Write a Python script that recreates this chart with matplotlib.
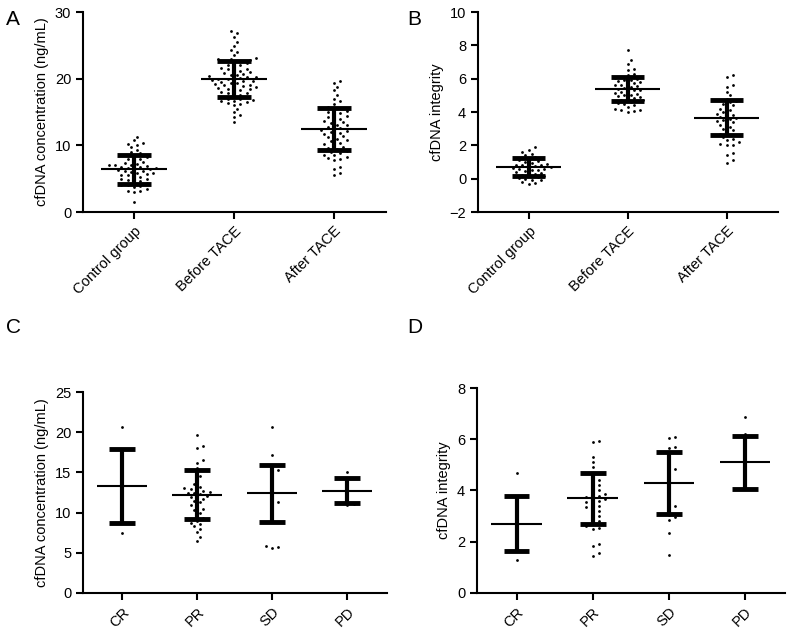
import numpy as np
import matplotlib
matplotlib.use('Agg')
import matplotlib.pyplot as plt

plt.rcParams['font.family'] = ['Liberation Sans', 'DejaVu Sans']

# Panel A / B: groups
grupos_ab = ['Control group', 'Before TACE', 'After TACE']
conc_control = [1.5, 3.0, 3.1, 3.2, 3.5, 3.7, 3.9, 4.0, 4.1, 4.3, 4.5, 4.6, 4.8, 4.9, 5.0,
                5.2, 5.3, 5.5, 5.6, 5.7, 5.8, 5.9, 6.0, 6.1, 6.2, 6.3, 6.4, 6.5, 6.6, 6.6,
                6.7, 6.8, 6.9, 7.0, 7.0, 7.1, 7.2, 7.3, 7.5, 7.7, 7.9, 8.0, 8.2, 8.4, 8.5,
                8.8, 9.0, 9.3, 9.7, 10.0, 10.2, 10.4, 10.8, 11.3]
conc_before = [13.5, 14.2, 14.6, 15.0, 15.5, 16.0, 16.2, 16.3, 16.5, 16.6, 16.7, 16.8, 16.9,
               17.0, 17.2, 17.4, 17.6, 17.8, 17.9, 18.0, 18.1, 18.3, 18.4, 18.5, 18.6, 18.7,
               18.8, 18.9, 19.0, 19.1, 19.2, 19.3, 19.4, 19.5, 19.6, 19.7, 19.8, 19.9, 20.0,
               20.0, 20.1, 20.2, 20.3, 20.4, 20.5, 20.6, 20.7, 20.8, 21.0, 21.1, 21.2, 21.4,
               21.5, 21.6, 21.8, 22.0, 22.1, 22.3, 22.5, 22.6, 22.7, 22.8, 22.9, 23.0, 23.1,
               23.5, 24.0, 24.3, 24.9, 25.5, 26.2, 26.8, 27.2]
conc_after = [5.5, 5.8, 6.4, 6.7, 7.8, 8.0, 8.1, 8.3, 8.5, 8.6, 8.8, 9.0, 9.2, 9.4, 9.6,
              9.8, 10.0, 10.2, 10.4, 10.6, 10.8, 11.0, 11.2, 11.4, 11.5, 11.7, 11.9, 12.0,
              12.2, 12.3, 12.5, 12.6, 12.8, 13.0, 13.1, 13.3, 13.5, 13.6, 13.8, 14.0, 14.2,
              14.4, 14.6, 14.8, 15.0, 15.2, 15.4, 15.6, 15.8, 16.2, 16.6, 17.0, 17.6, 18.3,
              18.8, 19.3, 19.6]
conc_media = [6.4, 19.9, 12.5]
conc_sd = [2.2, 2.7, 3.15]

integ_control = [-0.3, -0.25, -0.2, -0.1, -0.05, 0.0, 0.05, 0.1, 0.15, 0.2, 0.25, 0.3, 0.35,
                 0.4, 0.45, 0.5, 0.55, 0.6, 0.6, 0.65, 0.7, 0.7, 0.75, 0.8, 0.8, 0.85, 0.9,
                 0.95, 1.0, 1.05, 1.1, 1.2, 1.3, 1.4, 1.5, 1.6, 1.75, 1.9]
integ_before = [4.0, 4.05, 4.1, 4.15, 4.2, 4.3, 4.4, 4.5, 4.55, 4.6, 4.65, 4.7, 4.75, 4.8,
                4.85, 4.9, 4.95, 5.0, 5.05, 5.1, 5.15, 5.2, 5.25, 5.3, 5.35, 5.4, 5.45, 5.5,
                5.55, 5.6, 5.65, 5.7, 5.75, 5.8, 5.85, 5.9, 5.95, 6.0, 6.05, 6.1, 6.2, 6.3,
                6.5, 6.6, 6.9, 7.1, 7.7]
integ_after = [0.95, 1.1, 1.4, 1.55, 2.0, 2.05, 2.1, 2.2, 2.3, 2.4, 2.5, 2.6, 2.7, 2.8, 2.9,
               3.0, 3.1, 3.2, 3.3, 3.4, 3.45, 3.5, 3.6, 3.65, 3.7, 3.8, 3.85, 3.9, 4.0, 4.1,
               4.2, 4.3, 4.4, 4.5, 4.6, 4.65, 4.7, 4.8, 5.0, 5.2, 5.5, 5.6, 6.1, 6.2]
integ_media = [0.7, 5.4, 3.65]
integ_sd = [0.52, 0.73, 1.05]

# Panel C / D: respuesta
grupos_cd = ['CR', 'PR', 'SD', 'PD']
resp_conc = [
    [7.5, 11.5, 13.0, 14.5, 20.6],
    [6.5, 7.0, 7.6, 8.0, 8.3, 8.6, 8.7, 9.0, 9.3, 9.6, 10.0, 10.3, 10.5, 10.8, 11.0, 11.3,
     11.5, 11.7, 11.9, 12.0, 12.1, 12.3, 12.4, 12.5, 12.6, 12.7, 12.8, 12.9, 13.0, 13.2,
     13.5, 14.0, 14.5, 15.0, 15.3, 15.6, 16.2, 16.5, 18.0, 18.3, 19.7],
    [5.6, 5.7, 5.8, 10.2, 11.0, 11.3, 12.2, 13.0, 14.3, 15.0, 15.3, 17.2, 20.6],
    [11.0, 11.1, 12.5, 13.8, 15.0],
]
resp_conc_media = [13.3, 12.2, 12.4, 12.7]
resp_conc_sd = [4.65, 3.05, 3.55, 1.55]

resp_integ = [
    [1.3, 3.05, 4.7],
    [1.45, 1.55, 1.85, 1.9, 2.5, 2.55, 2.6, 2.7, 2.8, 2.9, 3.0, 3.1, 3.2, 3.3, 3.35, 3.4,
     3.5, 3.55, 3.6, 3.65, 3.7, 3.75, 3.8, 3.85, 3.9, 4.0, 4.1, 4.2, 4.3, 4.4, 4.5, 4.7,
     4.9, 5.1, 5.3, 5.9, 5.95],
    [1.5, 2.35, 2.85, 2.95, 3.05, 3.35, 3.4, 4.05, 4.5, 4.8, 4.85, 5.65, 5.7, 6.05, 6.1],
    [4.2, 4.8, 6.2, 6.85],
]
resp_integ_media = [2.7, 3.7, 4.3, 5.1]
resp_integ_sd = [1.07, 1.0, 1.22, 1.03]


def enjambre(ax, xc, vals, gap=4.2):
    # posiciones x tipo beeswarm en pixeles
    vals = np.asarray(vals, dtype=float)
    pts = ax.transData.transform(np.column_stack([np.full(len(vals), xc), vals]))
    placed = []
    out = np.zeros(len(vals))
    for i in np.argsort(vals):
        px, py = pts[i]
        for k in range(60):
            cands = [0.0] if k == 0 else [k * gap * 0.75, -k * gap * 0.75]
            ok = None
            for c in cands:
                if all((px + c - qx) ** 2 + (py - qy) ** 2 >= gap ** 2 for qx, qy in placed):
                    ok = c
                    break
            if ok is not None:
                break
        placed.append((px + ok, py))
        out[i] = ax.transData.inverted().transform((px + ok, py))[0]
    return out


def panel(ax, grupos, datos, medias, sds, ylim, yticks, ylabel, xlim):
    ax.set_xlim(*xlim)
    ax.set_ylim(*ylim)
    for i, vals in enumerate(datos):
        xs = enjambre(ax, i, vals)
        ax.scatter(xs, vals, s=4, color='black', zorder=2, linewidths=0)
        m, s = medias[i], sds[i]
        ax.hlines(m, i - 0.33, i + 0.33, color='black', lw=1.5, zorder=3)
        ax.vlines(i, m - s, m + s, color='black', lw=3, zorder=3)
        ax.hlines([m - s, m + s], i - 0.17, i + 0.17, color='black', lw=3.5, zorder=3)
    ax.set_xticks(range(len(grupos)))
    ax.set_xticklabels(grupos, rotation=45, ha='right', rotation_mode='anchor', fontsize=10.5)
    ax.set_yticks(yticks)
    ax.tick_params(axis='y', labelsize=10.5, length=5, width=1.5)
    ax.tick_params(axis='x', length=5, width=1.5)
    ax.set_ylabel(ylabel, fontsize=10.5)
    for lado in ['top', 'right']:
        ax.spines[lado].set_visible(False)
    for lado in ['left', 'bottom']:
        ax.spines[lado].set_linewidth(1.5)


fig = plt.figure(figsize=(7.95, 6.39), dpi=100)

axA = fig.add_axes([0.1044, 0.6682, 0.381, 0.313])
panel(axA, grupos_ab, [conc_control, conc_before, conc_after], conc_media, conc_sd,
      (0, 30), [0, 10, 20, 30], 'cfDNA concentration (ng/mL)', (-0.51, 2.52))

axB = fig.add_axes([0.6013, 0.6682, 0.3774, 0.313])
panel(axB, grupos_ab, [integ_control, integ_before, integ_after], integ_media, integ_sd,
      (-2, 10), [-2, 0, 2, 4, 6, 8, 10], 'cfDNA integrity', (-0.51, 2.52))

axC = fig.add_axes([0.1044, 0.0720, 0.3824, 0.3145])
panel(axC, grupos_cd, resp_conc, resp_conc_media, resp_conc_sd,
      (0, 25), [0, 5, 10, 15, 20, 25], 'cfDNA concentration (ng/mL)', (-0.52, 3.53))

axD = fig.add_axes([0.6, 0.0720, 0.3874, 0.3208])
panel(axD, grupos_cd, resp_integ, resp_integ_media, resp_integ_sd,
      (0, 8), [0, 2, 4, 6, 8], 'cfDNA integrity', (-0.52, 3.53))

for letra, x, y in [('A', 0.007, 0.97), ('B', 0.512, 0.97), ('C', 0.007, 0.487), ('D', 0.512, 0.487)]:
    fig.text(x, y, letra, fontsize=15, va='center', ha='left')

fig.savefig('out.png', dpi=100)
